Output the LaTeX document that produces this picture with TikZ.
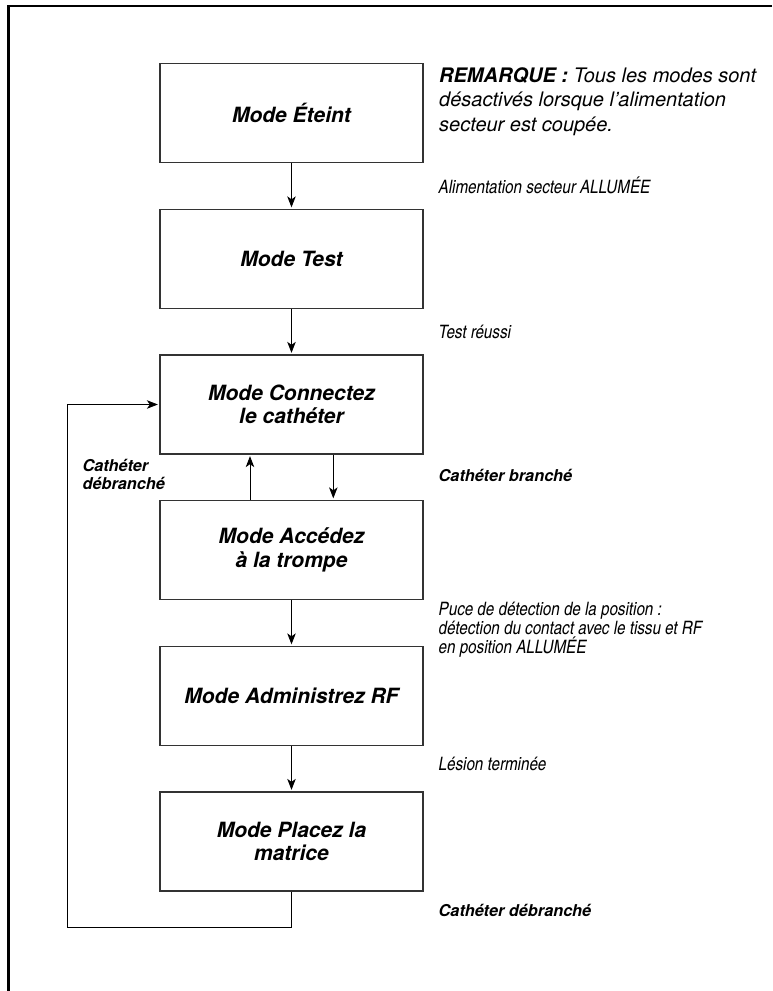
\documentclass[tikz,border=0pt]{standalone}
\usepackage{fontspec}
\setmainfont{TeX Gyre Heros}
\newfontfamily\condfont{TeX Gyre Heros Cn}
\usetikzlibrary{arrows.meta}

\begin{document}
\begin{tikzpicture}[x=1pt, y=-1pt,
  modebox/.style={draw=black!80, line width=1.3pt, minimum width=263pt, minimum height=99pt,
    align=center, inner sep=0pt, font=\bfseries\itshape\fontsize{21}{23.4}\selectfont},
  trans/.style={anchor=base west, align=left, inner sep=0pt, font=\condfont\itshape\fontsize{18.5}{19}\selectfont},
  transbold/.style={trans, font=\bfseries\itshape\fontsize{16.3}{18.3}\selectfont},
  flow/.style={line width=0.9pt, shorten >=1.5pt, -{Stealth[length=11pt, width=8.5pt, inset=3pt]}}]
  \useasboundingbox (0,0) rectangle (772,991);
  \draw [line width=2.4pt] (772,6) -- (8.3,6) -- (8.3,991);

  \node [modebox] (eteint) at (291.5,113) {Mode Éteint};
  \node [modebox] (test) at (291.5,259) {Mode Test};
  \node [modebox] (connect) at (291.5,404.5) {Mode Connectez\\le cathéter};
  \node [modebox] (acces) at (291.5,550) {Mode Accédez\\à la trompe};
  \node [modebox] (rf) at (291.5,696) {Mode Administrez RF};
  \node [modebox] (matrice) at (291.5,841.5) {Mode Placez la\\matrice};

  % multi-line labels: the anchor is on the baseline of the last line
  \node [anchor=base west, align=left, inner sep=0pt, font=\itshape\fontsize{20}{24.7}\selectfont] (note) at (439,131.4)
    {\textbf{REMARQUE :} Tous les modes sont\\désactivés lorsque l’alimentation\\secteur est coupée.};
  \node [trans] (lblon) at (438.5,193.4) {Alimentation secteur ALLUMÉE};
  \node [trans] (lbltest) at (438.5,338.4) {Test réussi};
  \node [transbold] (lblbranche) at (438.5,481.7) {Cathéter branché};
  \node [trans] (lblpuce) at (438.5,653) {Puce de détection de la position :\\détection du contact avec le tissu et RF\\en position ALLUMÉE};
  \node [trans] (lbllesion) at (438.5,770) {Lésion terminée};
  \node [transbold] (lbldebranche) at (438.5,916) {Cathéter débranché};
  \node [transbold] (lblretour) at (82.4,489.3) {Cathéter\\débranché};

  \draw [flow] (eteint) -- (test);
  \draw [flow] (test) -- (connect);
  \draw [flow] ([xshift=-41.5pt]acces.north) -- ([xshift=-41.5pt]connect.south);
  \draw [flow] ([xshift=41.8pt]connect.south) -- ([xshift=41.8pt]acces.north);
  \draw [flow] (acces) -- (rf);
  \draw [flow] (rf) -- (matrice);
  \coordinate (loopcorner) at (67.7,927.7);
  \draw [flow] (matrice) |- (loopcorner) |- (connect);
\end{tikzpicture}
\end{document}
